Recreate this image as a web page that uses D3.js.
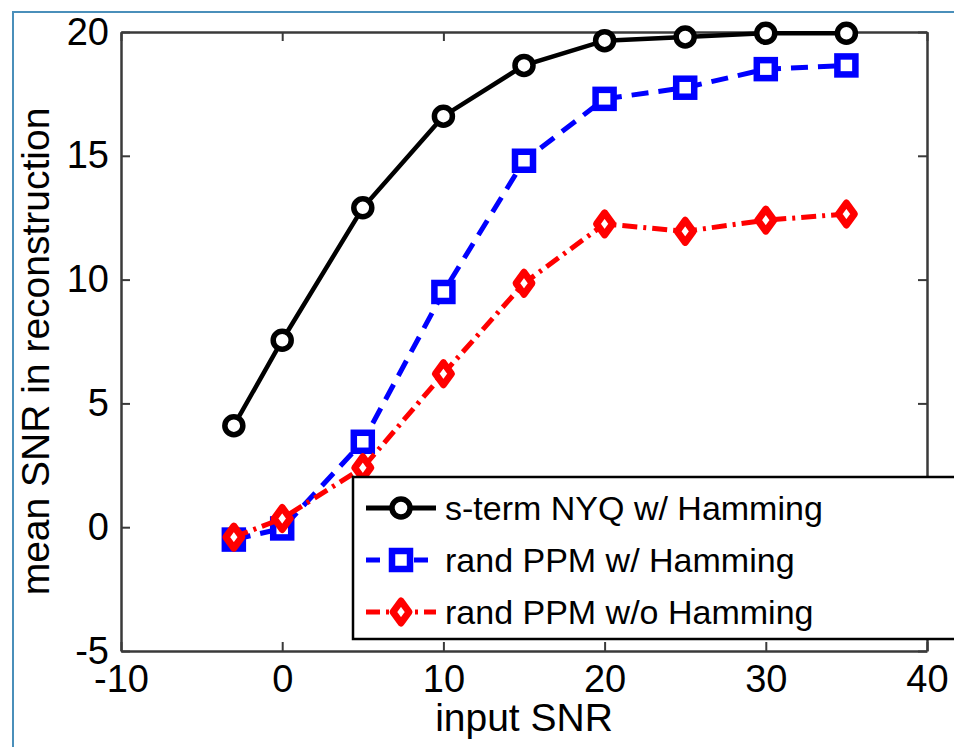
<!DOCTYPE html>
<html>
<head>
<meta charset="utf-8">
<script src="https://cdn.jsdelivr.net/npm/d3@7"></script>
<style>
  html, body { margin: 0; padding: 0; background: #fff; }
  svg { display: block; font-family: "Liberation Sans", Arial, sans-serif; }
</style>
</head>
<body>
<svg id="chart" width="954" height="747"></svg>
<script>
// input SNR values (x)
const inputSNR = [-3, 0, 5, 10, 15, 20, 25, 30, 35];

// mean SNR in reconstruction, one array per method
const sTermNyq = [4.1, 7.55, 12.9, 16.6, 18.65, 19.65, 19.8, 19.95, 19.95];
const randPpmHam = [-0.5, -0.05, 3.45, 9.5, 14.8, 17.3, 17.75, 18.5, 18.65];
const randPpmNoHam = [-0.4, 0.35, 2.4, 6.2, 9.85, 12.25, 11.95, 12.4, 12.65];

const seriesNames = ['s-term NYQ w/ Hamming', 'rand PPM w/ Hamming', 'rand PPM w/o Hamming'];
const xTicks = [-10, 0, 10, 20, 30, 40];
const yTicks = [-5, 0, 5, 10, 15, 20];

const svg = d3.select('#chart');

// frame border of the figure
svg.append('path')
  .attr('d', 'M13,747 L13,12 L954,12')
  .attr('fill', 'none')
  .attr('stroke', '#4a8fba')
  .attr('stroke-width', 2);

const x = d3.scaleLinear().domain([-10, 40]).range([121, 927]);
const y = d3.scaleLinear().domain([-5, 20]).range([651, 32]);

// plain hyphen for negatives, like MATLAB
const fmt = (d) => String(d);

// ////////////////////////////////////////////////////////////////////////
// Axes (MATLAB style box with inward ticks on all sides)
const axisColor = '#3a3a3a';
const styleAxis = (g) => {
  g.selectAll('.domain').attr('stroke', axisColor).attr('stroke-width', 2.5);
  g.selectAll('.tick line').attr('stroke', axisColor).attr('stroke-width', 2);
  g.selectAll('.tick text').attr('fill', '#000').attr('font-size', 38)
    .attr('font-family', '"Liberation Sans", Arial, sans-serif');
};

svg.append('g')
  .attr('transform', `translate(0,${y(-5)})`)
  .call(d3.axisBottom(x).tickValues(xTicks).tickFormat(fmt).tickSizeInner(-9).tickSizeOuter(0).tickPadding(14))
  .call(styleAxis);

svg.append('g')
  .attr('transform', `translate(0,${y(20)})`)
  .call(d3.axisTop(x).tickValues(xTicks).tickSizeInner(-9).tickSizeOuter(0).tickFormat(''))
  .call(styleAxis);

svg.append('g')
  .attr('transform', `translate(${x(-10)},0)`)
  .call(d3.axisLeft(y).tickValues(yTicks).tickFormat(fmt).tickSizeInner(-9).tickSizeOuter(0).tickPadding(12))
  .call(styleAxis);

svg.append('g')
  .attr('transform', `translate(${x(40)},0)`)
  .call(d3.axisRight(y).tickValues(yTicks).tickSizeInner(-9).tickSizeOuter(0).tickFormat(''))
  .call(styleAxis);

// axis labels
svg.append('text')
  .attr('x', (x(-10) + x(40)) / 2)
  .attr('y', 731)
  .attr('text-anchor', 'middle')
  .attr('font-size', 39)
  .text('input SNR');

svg.append('text')
  .attr('transform', `translate(49,${(y(-5) + y(20)) / 2 + 10}) rotate(-90)`)
  .attr('text-anchor', 'middle')
  .attr('font-size', 39)
  .text('mean SNR in reconstruction');

// ////////////////////////////////////////////////////////////////////////
// Series
const series = [
  { name: seriesNames[0], values: sTermNyq, color: '#000', dash: null, marker: 'circle' },
  { name: seriesNames[1], values: randPpmHam, color: '#0000ff', dash: '17 10', marker: 'square' },
  { name: seriesNames[2], values: randPpmNoHam, color: '#ff0000', dash: '15 6 3 6', marker: 'diamond' },
];

const line = d3.line().x((d) => x(d[0])).y((d) => y(d[1]));

const drawMarker = (g, type, color, cx, cy) => {
  if (type === 'circle') {
    g.append('circle').attr('cx', cx).attr('cy', cy).attr('r', 9)
      .attr('fill', '#fff').attr('stroke', color).attr('stroke-width', 5.5);
  } else if (type === 'square') {
    g.append('rect').attr('x', cx - 9).attr('y', cy - 9).attr('width', 18).attr('height', 18)
      .attr('fill', '#fff').attr('stroke', color).attr('stroke-width', 6.5);
  } else {
    g.append('path')
      .attr('d', `M${cx},${cy - 11} L${cx + 8},${cy} L${cx},${cy + 11} L${cx - 8},${cy} Z`)
      .attr('fill', '#fff').attr('stroke', color).attr('stroke-width', 7)
      .attr('stroke-linejoin', 'round');
  }
};

series.forEach((s) => {
  const pts = inputSNR.map((v, i) => [v, s.values[i]]);
  const g = svg.append('g').attr('class', 'series');
  g.append('path')
    .datum(pts)
    .attr('d', line)
    .attr('fill', 'none')
    .attr('stroke', s.color)
    .attr('stroke-width', s.marker === 'circle' ? 4.5 : 5)
    .attr('stroke-dasharray', s.dash);
  pts.forEach((p) => drawMarker(g, s.marker, s.color, x(p[0]), y(p[1])));
});

// ////////////////////////////////////////////////////////////////////////
// Legend
const legend = svg.append('g').attr('class', 'legend');
legend.append('rect')
  .attr('x', 353).attr('y', 477).attr('width', 640).attr('height', 162)
  .attr('fill', '#fff').attr('stroke', '#000').attr('stroke-width', 2.5);

series.forEach((s, i) => {
  const ly = 508 + i * 52;
  legend.append('line')
    .attr('x1', 366).attr('x2', 436).attr('y1', ly).attr('y2', ly)
    .attr('stroke', s.color).attr('stroke-width', 5)
    .attr('stroke-dasharray', s.marker === 'square' ? '14 10' : (s.dash ? '14 6 3 6' : null));
  drawMarker(legend, s.marker, s.color, 401, ly);
  legend.append('text')
    .attr('x', 445).attr('y', ly + 12)
    .attr('font-size', 34)
    .text(s.name);
});
</script>
</body>
</html>
